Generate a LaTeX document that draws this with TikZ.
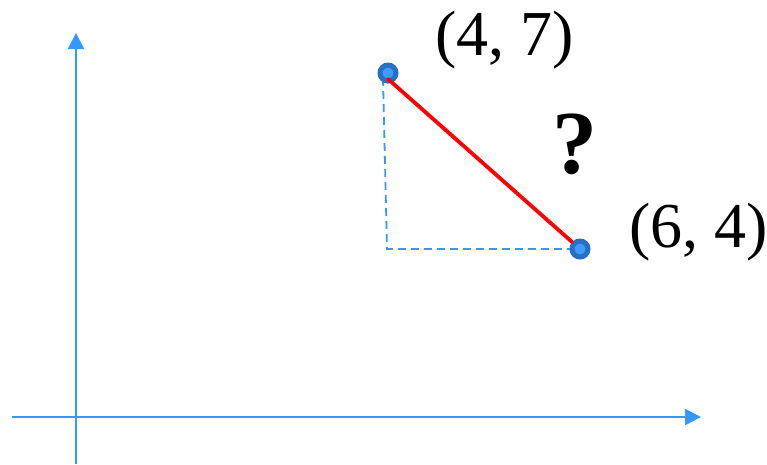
\documentclass[tikz,border=0pt]{standalone}
\usepackage{fontspec}
\setmainfont{Liberation Serif}
\usetikzlibrary{arrows.meta}
\definecolor{axisblue}{HTML}{3399FF}
\definecolor{ptdark}{HTML}{2A6FC4}
\definecolor{ptlight}{HTML}{3C9CFF}
\definecolor{segred}{HTML}{FF0000}
\tikzset{
  axisline/.style={axisblue, line width=2.4pt, -{Triangle[length=16pt,width=16pt]}},
  dashline/.style={axisblue, line width=1.8pt, dash pattern=on 8pt off 5pt},
  ptnode/.style={circle, minimum size=16pt, inner sep=0pt, line width=5pt, draw=ptdark, fill=ptlight},
  seg/.style={segred, line width=3.8pt},
  lbl/.style={inner sep=0pt, outer sep=0pt, anchor=base west, font=\fontsize{64}{68}\selectfont},
  qlbl/.style={inner sep=0pt, outer sep=0pt, anchor=base west, font=\fontsize{90}{95}\selectfont\bfseries}
}
\begin{document}
\begin{tikzpicture}[x=1pt,y=-1pt]
\useasboundingbox (0,0) rectangle (767,464);
% axes
\coordinate (ybot) at (76,464);
\coordinate (ytop) at (76,33);
\coordinate (xleft) at (12,417);
\coordinate (xright) at (701,417);
\draw[axisline] (ybot) -- (ytop);
\draw[axisline] (xleft) -- (xright);
% dashed legs
\coordinate (vtop) at (383,78);
\coordinate (corner) at (387,249);
\coordinate (hend) at (572,249);
\draw[dashline] (vtop) -- (corner) -- (hend);
% points
\node[ptnode] (p1) at (388,73) {};
\node[ptnode] (p2) at (580,249) {};
\draw[seg, line cap=round] ([yshift=-6pt]p1.center) -- (p2);
% labels
\node[lbl] (l1) at (435,55) {(4, 7)};
\node[lbl] (l2) at (629,247) {(6, 4)};
\node[qlbl] (q) at (552,173) {?};
\end{tikzpicture}
\end{document}
